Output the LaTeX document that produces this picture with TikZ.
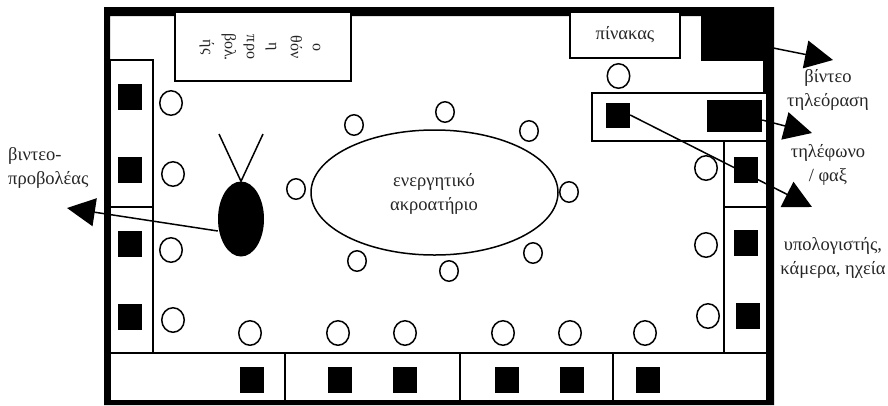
\documentclass[tikz,border=0pt]{standalone}
\usepackage{fontspec}
\setmainfont{Liberation Serif}
\usetikzlibrary{arrows.meta,shapes.geometric}
\tikzset{
  seat/.style={shape=ellipse,draw=black,line width=1.5pt,fill=white,inner sep=0pt,minimum width=22.5pt,minimum height=24.5pt},
  ringseat/.style={seat,minimum width=18.5pt,minimum height=20.5pt},
  desk/.style={rectangle,fill=black,inner sep=0pt,minimum width=24pt,minimum height=26pt},
  zone/.style={draw=black,line width=1.5pt,fill=white},
  lbl/.style={inner sep=0pt,align=center,font=\fontsize{18.5}{24}\selectfont,text=black!85},
  pointer/.style={draw=black,line width=1.5pt,-{Triangle[length=28pt,width=28pt]}}
}
\begin{document}
\begin{tikzpicture}[x=1pt,y=-1pt]
\useasboundingbox (0,0) rectangle (888,405);
\fill[white] (0,0) rectangle (888,405);
% frame
\fill[black,even odd rule] (104,7) rectangle (774,405) (110,16) rectangle (767,400.5);
\fill[black] (763,16) rectangle (767,93);
\node[rectangle,fill=black,inner sep=0pt,minimum width=72pt,minimum height=54pt] (tv) at (737,34) {};
% zones
\draw[zone] (110,60) rectangle (153,207);
\draw[zone] (110,207) rectangle (153,353);
\draw[zone] (110,353) rectangle (285,400.5);
\draw[zone] (285,353) rectangle (460,400.5);
\draw[zone] (460,353) rectangle (613,400.5);
\draw[zone] (613,353) rectangle (767,400.5);
\draw[zone] (724,141) rectangle (767,207);
\draw[zone] (724,207) rectangle (767,353);
\draw[zone] (592,93) rectangle (767,141);
% boxes
\node[zone,rectangle,inner sep=0pt,minimum width=110pt,minimum height=46pt,lbl] (board) at (625,35) {πίνακας};
\node[zone,rectangle,inner sep=0pt,minimum width=176pt,minimum height=69pt] (screen) at (263,46.5) {};
\node[lbl,rotate=-90,font=\fontsize{16}{22}\selectfont] (screentext) at (260,47) {ο\\θόν\\η\\προ\\βολ.\\ής};
% table
\node[draw=black,line width=1.5pt,shape=ellipse,minimum width=247pt,minimum height=125pt,inner sep=0pt] (audience) at (434.5,192.5) {};
\node[lbl] (audtext) at (434,194) {ενεργητικό\\ακροατήριο};
% desks
\foreach \n/\x/\y in {l1/129.5/97,l2/129.5/170,l3/129.5/244,l4/129.5/316.5,
  b1/252/380,b2/340/380,b3/405/380,b4/507/380,b5/572/380,b6/647.5/380,
  r1/746/170,r2/746/243,r3/748/316}
  \node[desk] (\n) at (\x,\y) {};
\node[desk,minimum height=25pt] (pc) at (618,115) {};
\node[rectangle,fill=black,inner sep=0pt,minimum width=55pt,minimum height=32pt] (phone) at (734.5,116) {};
% seats
\foreach \n/\x/\y in {s1/171/103,s2/173/174,s3/171/250,s4/173/320,
  s5/250/333,s6/338/333,s7/405/333,s8/503/333,s9/570/333,s10/645/333,
  s11/706/168,s12/706/245,s13/708/316,s14/618.5/76}
  \node[seat] (\n) at (\x,\y) {};
\foreach \n/\x/\y in {s15/296/189,s16/354/125,s17/445/112,s18/529/131,s19/569/192,s20/533/253,s21/449/271,s22/357/261}
  \node[ringseat] (\n) at (\x,\y) {};
% projector
\node[shape=ellipse,fill=black,inner sep=0pt,minimum width=46pt,minimum height=75pt] (proj) at (241,219) {};
\coordinate (antl) at (219,134);
\coordinate (antr) at (263,134);
\draw[black,line width=1.5pt] (antl) -- (proj.north) -- (antr);
% arrows
\coordinate (projtip) at (67,208);
\coordinate (tvtip) at (833,60);
\coordinate (phonetip) at (812,133);
\coordinate (pctip) at (812,207);
\draw[pointer] (proj.west |- 0,231) -- (projtip);
\draw[pointer] (tv.east |- 0,48) -- (tvtip);
\draw[pointer] (phone.east |- 0,120) -- (phonetip);
\draw[pointer] (pc.east) -- (pctip);
% labels
\node[lbl] (tvl) at (828,90) {βίντεο\\τηλεόραση};
\node[lbl] (phl) at (828,164.5) {τηλέφωνο\\/ φαξ};
\node[lbl] (pcl) at (833,257.5) {υπολογιστής,\\κάμερα, ηχεία};
\node[lbl,align=left,anchor=west] (prl) at (8,167.5) {βιντεο-\\προβολέας};
\end{tikzpicture}
\end{document}
